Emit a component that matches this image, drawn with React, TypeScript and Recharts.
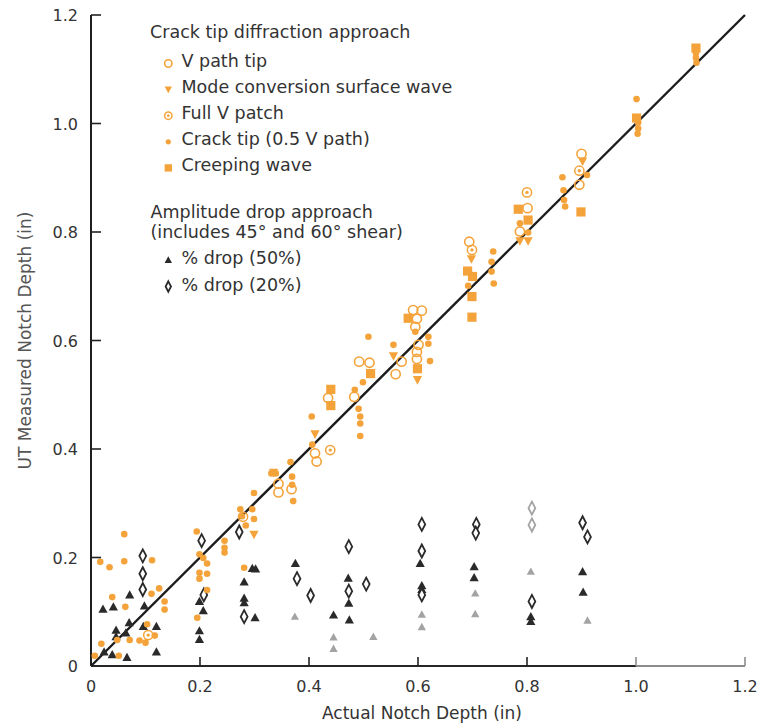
import { ScatterChart, Scatter, XAxis, YAxis, ReferenceLine } from 'recharts';

type Pt = [number, number];

const FONT = '"DejaVu Sans", sans-serif';
const ORANGE = '#F4A33A';
const DARK = '#2a2a2a';
const FADED = '#a3a3a3';
const TEXT = '#333333';

const xTicks = [0, 0.2, 0.4, 0.6, 0.8, 1.0, 1.2];
const yTicks = [0, 0.2, 0.4, 0.6, 0.8, 1.0, 1.2];
const identityLine: Pt[] = [[0, 0], [1.2, 1.2]];

// crack tip diffraction approach
const vPathTip: Pt[] = [
  [0.344, 0.336], [0.344, 0.320], [0.368, 0.326], [0.411, 0.392], [0.414, 0.377],
  [0.435, 0.494], [0.483, 0.496], [0.492, 0.561], [0.511, 0.559], [0.570, 0.561],
  [0.559, 0.538], [0.591, 0.656], [0.607, 0.655], [0.598, 0.640], [0.595, 0.625],
  [0.601, 0.592], [0.598, 0.579], [0.598, 0.566], [0.694, 0.782], [0.801, 0.844],
  [0.787, 0.801], [0.896, 0.887], [0.900, 0.944],
];

const modeConversion: Pt[] = [
  [0.299, 0.242], [0.335, 0.356], [0.411, 0.427], [0.555, 0.571], [0.599, 0.527],
  [0.698, 0.750], [0.787, 0.783], [0.802, 0.783], [0.902, 0.930],
];

const fullVPatch: Pt[] = [
  [0.105, 0.057], [0.439, 0.398], [0.279, 0.275], [0.699, 0.767], [0.800, 0.873],
  [0.896, 0.913],
];

const crackTip: Pt[] = [
  [0.061, 0.243], [0.017, 0.192], [0.034, 0.182], [0.061, 0.193], [0.112, 0.195],
  [0.039, 0.127], [0.063, 0.109], [0.125, 0.143], [0.135, 0.119], [0.135, 0.104],
  [0.111, 0.133], [0.019, 0.041], [0.007, 0.019], [0.051, 0.019], [0.071, 0.048],
  [0.089, 0.047], [0.100, 0.043], [0.117, 0.056], [0.103, 0.077], [0.048, 0.048],
  [0.194, 0.248], [0.199, 0.206], [0.206, 0.199], [0.213, 0.189], [0.199, 0.172],
  [0.199, 0.161], [0.213, 0.170], [0.213, 0.140], [0.195, 0.089], [0.245, 0.231],
  [0.245, 0.218], [0.245, 0.209], [0.274, 0.289], [0.277, 0.276], [0.284, 0.259],
  [0.296, 0.289], [0.299, 0.271], [0.299, 0.319], [0.281, 0.181], [0.331, 0.355],
  [0.339, 0.355], [0.369, 0.349], [0.369, 0.334], [0.371, 0.304], [0.366, 0.376],
  [0.406, 0.408], [0.405, 0.460], [0.491, 0.474], [0.494, 0.460], [0.494, 0.447],
  [0.494, 0.424], [0.484, 0.509], [0.499, 0.523], [0.509, 0.607], [0.555, 0.592],
  [0.619, 0.607], [0.619, 0.594], [0.622, 0.562], [0.595, 0.616], [0.692, 0.701],
  [0.738, 0.764], [0.735, 0.745], [0.735, 0.727], [0.739, 0.705], [0.787, 0.816],
  [0.802, 0.799], [0.867, 0.877], [0.868, 0.859], [0.870, 0.847], [0.865, 0.901],
  [0.910, 0.905], [1.001, 1.045], [1.004, 1.002], [1.004, 0.991], [1.003, 0.981],
  [1.110, 1.130], [1.110, 1.121], [1.111, 1.112],
];

const creepingWave: Pt[] = [
  [0.440, 0.510], [0.440, 0.480], [0.513, 0.539], [0.582, 0.641], [0.599, 0.548],
  [0.699, 0.681], [0.699, 0.643], [0.691, 0.728], [0.700, 0.718], [0.784, 0.842],
  [0.802, 0.822], [0.899, 0.837], [1.001, 1.010], [1.110, 1.139],
];

// amplitude drop approach
const drop50: Pt[] = [
  [0.022, 0.105], [0.041, 0.109], [0.071, 0.131], [0.098, 0.111], [0.070, 0.080],
  [0.046, 0.066], [0.046, 0.054], [0.064, 0.061], [0.096, 0.073], [0.120, 0.073],
  [0.024, 0.026], [0.039, 0.021], [0.066, 0.016], [0.120, 0.026], [0.199, 0.119],
  [0.206, 0.102], [0.199, 0.065], [0.199, 0.049], [0.281, 0.155], [0.281, 0.125],
  [0.281, 0.117], [0.296, 0.180], [0.302, 0.179], [0.301, 0.089], [0.375, 0.189],
  [0.445, 0.094], [0.472, 0.162], [0.473, 0.116], [0.474, 0.085], [0.604, 0.189],
  [0.607, 0.148], [0.607, 0.141], [0.703, 0.183], [0.703, 0.163], [0.807, 0.091],
  [0.807, 0.082], [0.902, 0.174], [0.903, 0.136],
];

const drop20: Pt[] = [
  [0.095, 0.203], [0.095, 0.170], [0.095, 0.141], [0.203, 0.231], [0.207, 0.131],
  [0.272, 0.247], [0.281, 0.091], [0.378, 0.161], [0.403, 0.130], [0.473, 0.220],
  [0.473, 0.138], [0.505, 0.151], [0.607, 0.261], [0.607, 0.212], [0.607, 0.131],
  [0.707, 0.261], [0.706, 0.245], [0.809, 0.119], [0.902, 0.264], [0.911, 0.238],
];

// faint marks in the scan
const faded20: Pt[] = [[0.809, 0.291], [0.809, 0.260]];
const faded50: Pt[] = [
  [0.374, 0.091], [0.445, 0.053], [0.445, 0.032], [0.518, 0.054], [0.607, 0.095],
  [0.607, 0.072], [0.705, 0.134], [0.705, 0.096], [0.807, 0.174], [0.911, 0.084],
];

const toRows = (pts: Pt[]) => pts.map(([x, y]) => ({ x, y }));
const fmt = (v: number) => (v === 0 ? '0' : v.toFixed(1));

// marker drawings (cx, cy from the scales, s = size factor)
const ring = (cx: number, cy: number, s = 1) => (
  <circle cx={cx} cy={cy} r={4.6 * s} fill="none" stroke={ORANGE} strokeWidth={1.6} />
);
const target = (cx: number, cy: number, s = 1) => (
  <g>
    <circle cx={cx} cy={cy} r={4.6 * s} fill="none" stroke={ORANGE} strokeWidth={1.5} />
    <circle cx={cx} cy={cy} r={1.7 * s} fill={ORANGE} />
  </g>
);
const dot = (cx: number, cy: number, s = 1) => <circle cx={cx} cy={cy} r={3.3 * s} fill={ORANGE} />;
const square = (cx: number, cy: number, s = 1) => (
  <rect x={cx - 4.6 * s} y={cy - 4.6 * s} width={9.2 * s} height={9.2 * s} fill={ORANGE} />
);
const downTri = (cx: number, cy: number, s = 1) => (
  <path d={`M${cx - 4.6 * s},${cy - 4 * s}L${cx + 4.6 * s},${cy - 4 * s}L${cx},${cy + 4.6 * s}Z`} fill={ORANGE} />
);
const upTri = (cx: number, cy: number, s = 1, fill = DARK) => (
  <path d={`M${cx},${cy - 4.6 * s}L${cx + 4.6 * s},${cy + 3.6 * s}L${cx - 4.6 * s},${cy + 3.6 * s}Z`} fill={fill} />
);
const diamond = (cx: number, cy: number, s = 1, stroke = DARK) => (
  <path
    d={`M${cx},${cy - 6.5 * s}L${cx + 3.4 * s},${cy}L${cx},${cy + 6.5 * s}L${cx - 3.4 * s},${cy}Z`}
    fill="#fff"
    stroke={stroke}
    strokeWidth={1.8}
  />
);

const XTick = (p: any) => {
  const v = p.payload.value;
  const c = v >= 1 ? '#8c8c8c' : '#222';
  return (
    <g>
      {v > 0 && <line x1={p.x} y1={p.y} x2={p.x} y2={p.y - 9} stroke={c} strokeWidth={1.6} />}
      <text x={p.x} y={p.y + 25.5} textAnchor="middle" fontSize={16} fill={TEXT} fontFamily={FONT}>
        {fmt(v)}
      </text>
    </g>
  );
};

const YTick = (p: any) => {
  const v = p.payload.value;
  return (
    <g>
      {v > 0 && <line x1={p.x} y1={p.y} x2={p.x + 10} y2={p.y} stroke="#222" strokeWidth={1.6} />}
      <text x={p.x - 13} y={p.y + 6} textAnchor="end" fontSize={16} fill={TEXT} fontFamily={FONT}>
        {fmt(v)}
      </text>
    </g>
  );
};

const legendItems = [
  { label: 'V path tip', draw: ring },
  { label: 'Mode conversion surface wave', draw: downTri },
  { label: 'Full V patch', draw: target },
  { label: 'Crack tip (0.5 V path)', draw: dot },
  { label: 'Creeping wave', draw: square },
];
const dropItems = [
  { label: '% drop (50%)', draw: (x: number, y: number) => upTri(x, y, 0.8) },
  { label: '% drop (20%)', draw: (x: number, y: number) => diamond(x, y, 0.8) },
];

function LegendOverlay() {
  const t = { fontFamily: FONT, fontSize: 17.5, fill: TEXT };
  return (
    <svg width={761} height={726} style={{ position: 'absolute', left: 0, top: 0, pointerEvents: 'none' }}>
      <text x={150} y={37.5} {...t}>Crack tip diffraction approach</text>
      {legendItems.map((it, i) => (
        <g key={it.label}>
          {it.draw(168.3, 63.5 + i * 26.1, 0.8)}
          <text x={181.5} y={67 + i * 26.1} {...t}>{it.label}</text>
        </g>
      ))}
      <text x={150.5} y={218.3} {...t}>Amplitude drop approach</text>
      <text x={150.5} y={237.5} {...t}>(includes 45° and 60° shear)</text>
      {dropItems.map((it, i) => (
        <g key={it.label}>
          {it.draw(168.3, 260 + i * 26.5)}
          <text x={181.5} y={264 + i * 26.5} {...t}>{it.label}</text>
        </g>
      ))}
    </svg>
  );
}

export default function App() {
  return (
    <div style={{ position: 'absolute', left: 0, top: 0, width: 761, height: 726, fontFamily: FONT }}>
      <ScatterChart width={761} height={726} margin={{ top: 15, right: 16, bottom: 10, left: 8 }}>
        <XAxis
          type="number"
          dataKey="x"
          domain={[0, 1.2]}
          ticks={xTicks}
          interval={0}
          height={50}
          axisLine={false}
          tickLine={false}
          tickSize={0}
          tickMargin={0}
          tick={<XTick />}
          allowDataOverflow
          label={{
            content: (props: any) => {
              const vb = props.viewBox;
              return (
                <text x={vb.x + vb.width / 2 + 4} y={vb.y + 53} textAnchor="middle" fontSize={17} fill={TEXT} fontFamily={FONT}>
                  Actual Notch Depth (in)
                </text>
              );
            },
          }}
        />
        <YAxis
          type="number"
          dataKey="y"
          domain={[0, 1.2]}
          ticks={yTicks}
          interval={0}
          width={83}
          axisLine={{ stroke: '#1e1e1e', strokeWidth: 2 }}
          tickLine={false}
          tickSize={0}
          tickMargin={0}
          tick={<YTick />}
          allowDataOverflow
          label={{
            content: (props: any) => {
              const vb = props.viewBox;
              const cy = vb.y + vb.height / 2;
              return (
                <text
                  x={31}
                  y={cy}
                  transform={`rotate(-90, 31, ${cy})`}
                  textAnchor="middle"
                  fontSize={17}
                  fill="#555"
                  fontFamily={FONT}
                >
                  UT Measured Notch Depth (in)
                </text>
              );
            },
          }}
        />
        <ReferenceLine segment={[{ x: 0, y: 0 }, { x: 1.0, y: 0 }]} stroke="#262626" strokeWidth={2} ifOverflow="visible" />
        <ReferenceLine segment={[{ x: 1.0, y: 0 }, { x: 1.2, y: 0 }]} stroke="#8c8c8c" strokeWidth={2} ifOverflow="visible" />
        <Scatter data={toRows(faded50)} isAnimationActive={false} shape={(p: any) => upTri(p.cx, p.cy, 0.9, FADED)} />
        <Scatter data={toRows(faded20)} isAnimationActive={false} shape={(p: any) => diamond(p.cx, p.cy, 1, FADED)} />
        <Scatter data={toRows(drop50)} isAnimationActive={false} shape={(p: any) => upTri(p.cx, p.cy)} />
        <Scatter data={toRows(drop20)} isAnimationActive={false} shape={(p: any) => diamond(p.cx, p.cy)} />
        <Scatter data={toRows(crackTip)} isAnimationActive={false} shape={(p: any) => dot(p.cx, p.cy)} />
        <Scatter data={toRows(creepingWave)} isAnimationActive={false} shape={(p: any) => square(p.cx, p.cy)} />
        <Scatter data={toRows(modeConversion)} isAnimationActive={false} shape={(p: any) => downTri(p.cx, p.cy)} />
        <Scatter data={toRows(vPathTip)} isAnimationActive={false} shape={(p: any) => ring(p.cx, p.cy)} />
        <Scatter data={toRows(fullVPatch)} isAnimationActive={false} shape={(p: any) => target(p.cx, p.cy)} />
        <ReferenceLine
          segment={identityLine.map(([x, y]) => ({ x, y }))}
          stroke="#1c1c1c"
          strokeWidth={2.4}
          ifOverflow="visible"
        />
      </ScatterChart>
      <LegendOverlay />
    </div>
  );
}
